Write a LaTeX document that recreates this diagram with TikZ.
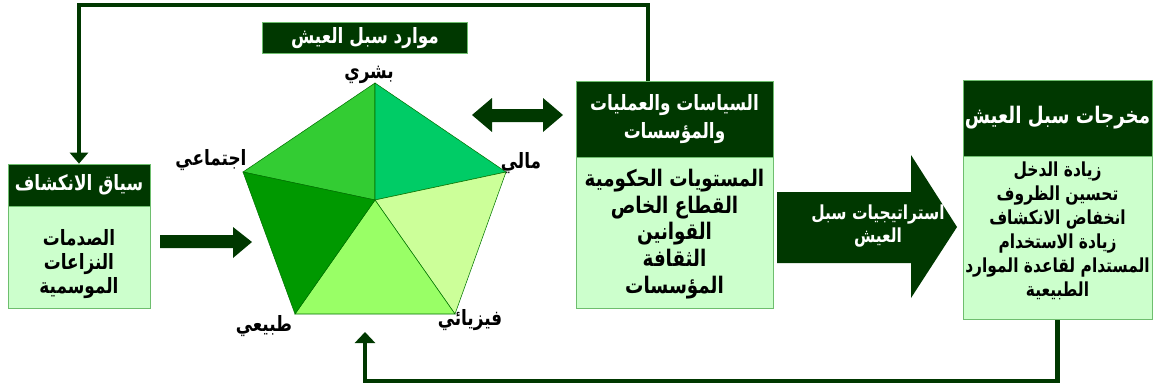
\documentclass[tikz,border=0pt]{standalone}
\usepackage{fontspec}
\newfontfamily\arabicfont[Script=Arabic,FakeStretch=0.8]{DejaVu Sans}
\TeXXeTstate=1
\usetikzlibrary{positioning,arrows.meta}

\definecolor{darkGreen}{RGB}{0,56,0}
\definecolor{paleGreen}{RGB}{204,255,204}
\definecolor{edgeGreen}{RGB}{110,190,110}
\definecolor{midGreen}{RGB}{51,204,51}
\definecolor{tealGreen}{RGB}{0,204,102}
\definecolor{limeGreen}{RGB}{204,255,153}
\definecolor{grassGreen}{RGB}{153,255,102}
\definecolor{deepGreen}{RGB}{0,153,0}

\newcommand{\artxt}[1]{\beginR #1\endR}

\tikzset{
  headbox/.style={draw=edgeGreen, fill=darkGreen, text=white, inner sep=0pt,
    align=center, font=\arabicfont\bfseries\fontsize{12}{15}\selectfont},
  bodybox/.style={draw=edgeGreen, fill=paleGreen, inner sep=0pt},
  bodytext/.style={inner sep=0pt, align=center},
  vertexlabel/.style={inner sep=0pt, font=\arabicfont\bfseries\fontsize{12}{14}\selectfont},
  flowline/.style={darkGreen, line width=2.3pt},
  facet/.style={draw=green!45!black, line width=0.3pt},
}

\begin{document}
\begin{tikzpicture}[x=0.02cm,y=-0.02cm]
  \useasboundingbox (0,0) rectangle (1155,389);

  % context box
  \node[headbox, minimum width=2.84cm, minimum height=0.84cm] (ctxhead) at (79,185)
    {\artxt{سياق الانكشاف}};
  \node[bodybox, minimum width=2.84cm, minimum height=2.04cm, below=0pt of ctxhead] (ctxbody) {};
  \node[bodytext, font=\arabicfont\bfseries\fontsize{12}{13.6}\selectfont] (ctxlist) at (79,264)
    {\artxt{الصدمات}\\ \artxt{النزاعات}\\ \artxt{الموسمية}};

  % pentagon of assets
  \coordinate (P1) at (375,83);
  \coordinate (P2) at (506,172);
  \coordinate (P3) at (455,314);
  \coordinate (P4) at (295,314);
  \coordinate (P5) at (243,172);
  \coordinate (O) at (375,200);

  \filldraw[facet, fill=midGreen] (P1) -- (P5) -- (O) -- cycle;
  \filldraw[facet, fill=tealGreen] (P1) -- (P2) -- (O) -- cycle;
  \filldraw[facet, fill=limeGreen] (P2) -- (P3) -- (O) -- cycle;
  \filldraw[facet, fill=grassGreen] (P3) -- (P4) -- (O) -- cycle;
  \filldraw[facet, fill=deepGreen] (P4) -- (P5) -- (O) -- cycle;

  \node[headbox, minimum width=4.1cm, minimum height=0.62cm] (restitle) at (365,38)
    {\artxt{موارد سبل العيش}};
  \node[vertexlabel] (human) at (369,75) {\artxt{بشري}};
  \node[vertexlabel] (financial) at (521,163) {\artxt{مالي}};
  \node[vertexlabel] (social) at (211,160) {\artxt{اجتماعي}};
  \node[vertexlabel] (natural) at (264,326) {\artxt{طبيعي}};
  \node[vertexlabel] (physical) at (470,320) {\artxt{فيزيائي}};

  % policies box
  \node[headbox, minimum width=3.94cm, minimum height=1.52cm] (polhead) at (674.5,119)
    {\artxt{السياسات والعمليات}\\[1pt] \artxt{والمؤسسات}};
  \node[bodybox, minimum width=3.94cm, minimum height=3.02cm, below=0pt of polhead] (polbody) {};
  \node[bodytext, font=\arabicfont\bfseries\fontsize{13}{15.3}\selectfont] (pollist) at (674.5,234)
    {\artxt{المستويات الحكومية}\\ \artxt{القطاع الخاص}\\ \artxt{القوانين}\\
     \artxt{الثقافة}\\ \artxt{المؤسسات}};

  % outcomes box
  \node[headbox, minimum width=3.78cm, minimum height=1.52cm,
    font=\arabicfont\bfseries\fontsize{13}{15}\selectfont] (outhead) at (1057.5,118)
    {\artxt{مخرجات سبل العيش}};
  \node[bodybox, minimum width=3.78cm, minimum height=3.26cm, below=0pt of outhead] (outbody) {};
  \node[bodytext, font=\arabicfont\bfseries\fontsize{11}{13.6}\selectfont] (outlist) at (1057.5,231)
    {\artxt{زيادة الدخل}\\ \artxt{تحسين الظروف}\\ \artxt{انخفاض الانكشاف}\\
     \artxt{زيادة الاستخدام}\\ \artxt{المستدام لقاعدة الموارد}\\ \artxt{الطبيعية}};

  % block arrows
  \fill[darkGreen] (160,235) -- (233,235) -- (233,227) -- (252,242) -- (233,258)
    -- (233,248) -- (160,248) -- cycle;
  \fill[darkGreen] (472,115) -- (492,98) -- (492,109) -- (543,109) -- (543,98)
    -- (563,115) -- (543,132) -- (543,122) -- (492,122) -- (492,132) -- cycle;
  \fill[darkGreen] (777,192) -- (911,192) -- (911,155) -- (957,227) -- (911,298)
    -- (911,263) -- (777,263) -- cycle;
  \node[headbox, draw=none, fill=none, font=\arabicfont\bfseries\fontsize{11}{13.6}\selectfont]
    (strategy) at (878,226) {\artxt{استراتيجيات سبل}\\ \artxt{العيش}};

  % feedback lines
  \coordinate (topR) at (648,5);
  \coordinate (topL) at (79,5);
  \coordinate (botL) at (365,381);
  \coordinate (botTip) at (365,332);
  \draw[flowline, -{Triangle[width=0.36cm,length=0.22cm]}]
    (polhead.north -| topR) |- (topL) -- (ctxhead.north);
  \draw[flowline, -{Triangle[width=0.4cm,length=0.22cm]}]
    (outbody.south) |- (botL) -- (botTip);
\end{tikzpicture}
\end{document}
